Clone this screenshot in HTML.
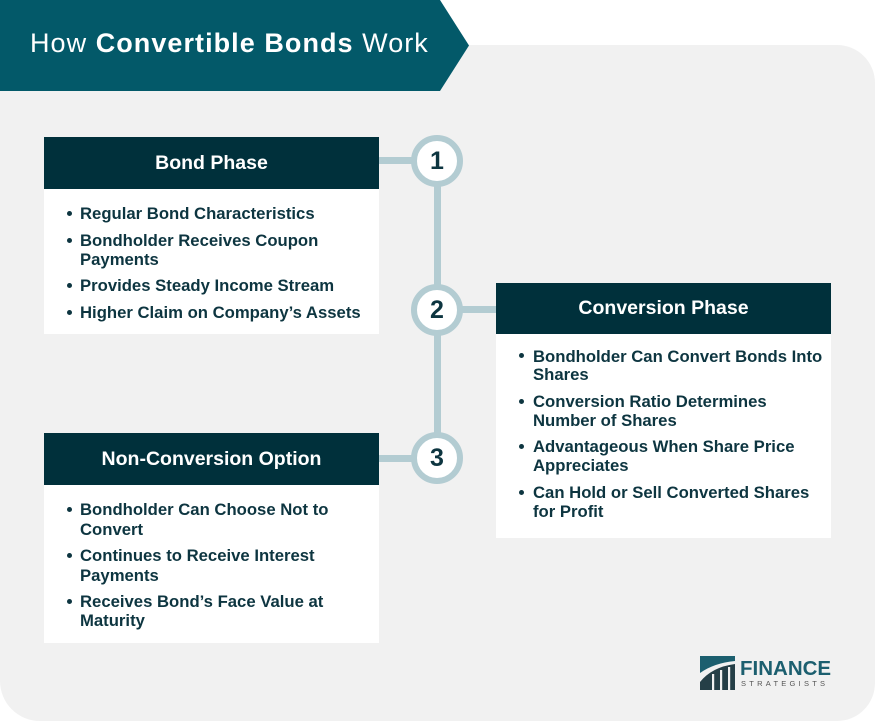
<!DOCTYPE html>
<html><head><meta charset="utf-8">
<style>
*{margin:0;padding:0;box-sizing:border-box}
html,body{width:875px;height:722px;overflow:hidden;background:#fff}
body{position:relative;font-family:"Liberation Sans",Arial,sans-serif}
.panel{position:absolute;left:0;top:45px;width:875px;height:676px;background:#f1f1f1;border-radius:0 38px 38px 40px}
.abs{position:absolute}
.hdr{position:absolute;background:#00303b;color:#fff;font-weight:bold;font-size:19.5px;text-align:center;white-space:nowrap}
.body{position:absolute;background:#fff}
.ln{position:absolute;font-weight:bold;font-size:16.7px;line-height:19px;color:#0d3540;white-space:nowrap}
.dot{position:absolute;width:5px;height:5px;border-radius:50%;background:#0d3540}
.num{position:absolute;width:52px;height:52px;border-radius:50%;background:#fff;border:6px solid #b3ccd2;color:#0d3540;font-weight:bold;font-size:25px;text-align:center;line-height:40px}
.bar{position:absolute;background:#b3ccd2}
</style></head><body>
<div class="panel"></div>
<svg class="abs" style="left:0;top:0" width="480" height="92"><polygon points="0,0 440,0 469,45.5 440,91 0,91" fill="#035969"/></svg>
<div class="abs" style="left:30px;top:26px;color:#fff;font-size:27px;line-height:34px;white-space:nowrap;letter-spacing:1.05px">How <b>Convertible Bonds</b> Work</div>

<!-- connectors -->
<div class="bar" style="left:434px;top:170px;width:7px;height:290px"></div>
<div class="bar" style="left:379px;top:157px;width:36px;height:7px"></div>
<div class="bar" style="left:458px;top:306px;width:40px;height:7px"></div>
<div class="bar" style="left:379px;top:455px;width:36px;height:7px"></div>
<div class="num" style="left:411px;top:135px">1</div>
<div class="num" style="left:411px;top:284px">2</div>
<div class="num" style="left:411px;top:432px">3</div>

<!-- Bond Phase -->
<div class="body" style="left:44px;top:189px;width:335px;height:145px"></div>
<div class="hdr" style="left:44px;top:137px;width:335px;height:52px;line-height:52px">Bond Phase</div>
<div class="dot" style="left:67px;top:211px"></div><div class="ln" style="left:80px;top:204px">Regular Bond Characteristics</div>
<div class="dot" style="left:67px;top:238px"></div><div class="ln" style="left:80px;top:231px">Bondholder Receives Coupon</div>
<div class="ln" style="left:80px;top:250px">Payments</div>
<div class="dot" style="left:67px;top:283px"></div><div class="ln" style="left:80px;top:276px">Provides Steady Income Stream</div>
<div class="dot" style="left:67px;top:310px"></div><div class="ln" style="left:80px;top:303px">Higher Claim on Company’s Assets</div>

<!-- Conversion Phase -->
<div class="body" style="left:496px;top:334px;width:335px;height:204px"></div>
<div class="hdr" style="left:496px;top:283px;width:335px;height:51px;line-height:51px">Conversion Phase</div>
<div class="dot" style="left:519px;top:353px"></div><div class="ln" style="left:533px;top:347px">Bondholder Can Convert Bonds Into</div>
<div class="ln" style="left:533px;top:365px">Shares</div>
<div class="dot" style="left:519px;top:399px"></div><div class="ln" style="left:533px;top:392px">Conversion Ratio Determines</div>
<div class="ln" style="left:533px;top:411px">Number of Shares</div>
<div class="dot" style="left:519px;top:444px"></div><div class="ln" style="left:533px;top:437px">Advantageous When Share Price</div>
<div class="ln" style="left:533px;top:456px">Appreciates</div>
<div class="dot" style="left:519px;top:490px"></div><div class="ln" style="left:533px;top:483px">Can Hold or Sell Converted Shares</div>
<div class="ln" style="left:533px;top:502px">for Profit</div>

<!-- Non-Conversion -->
<div class="body" style="left:44px;top:485px;width:335px;height:158px"></div>
<div class="hdr" style="left:44px;top:433px;width:335px;height:52px;line-height:52px">Non-Conversion Option</div>
<div class="dot" style="left:67px;top:507px"></div><div class="ln" style="left:80px;top:500px">Bondholder Can Choose Not to</div>
<div class="ln" style="left:80px;top:520px">Convert</div>
<div class="dot" style="left:67px;top:553px"></div><div class="ln" style="left:80px;top:546px">Continues to Receive Interest</div>
<div class="ln" style="left:80px;top:566px">Payments</div>
<div class="dot" style="left:67px;top:599px"></div><div class="ln" style="left:80px;top:592px">Receives Bond’s Face Value at</div>
<div class="ln" style="left:80px;top:611px">Maturity</div>

<!-- logo -->
<svg class="abs" style="left:700px;top:656px" width="36" height="34" viewBox="0 0 36 34">
<path d="M0,0 L35,0 L35,5 Q14,7 0,17 Z" fill="#1c5f6f"/>
<path d="M0,34 L0,26 Q12,11 35,8 L35,34 Z" fill="#253f47"/>
<rect x="12" y="18" width="2.2" height="16" fill="#f1f1f1"/>
<rect x="20" y="14" width="2.2" height="20" fill="#f1f1f1"/>
<rect x="28" y="11" width="2.2" height="23" fill="#f1f1f1"/>
</svg>
<div class="abs" style="left:740px;top:658px;font-size:20.5px;font-weight:bold;color:#1c5f6f;line-height:22px;white-space:nowrap">FINANCE</div>
<div class="abs" style="left:741px;top:679px;font-size:7.5px;color:#555;line-height:9px;letter-spacing:3.25px;white-space:nowrap">STRATEGISTS</div>
</body></html>
